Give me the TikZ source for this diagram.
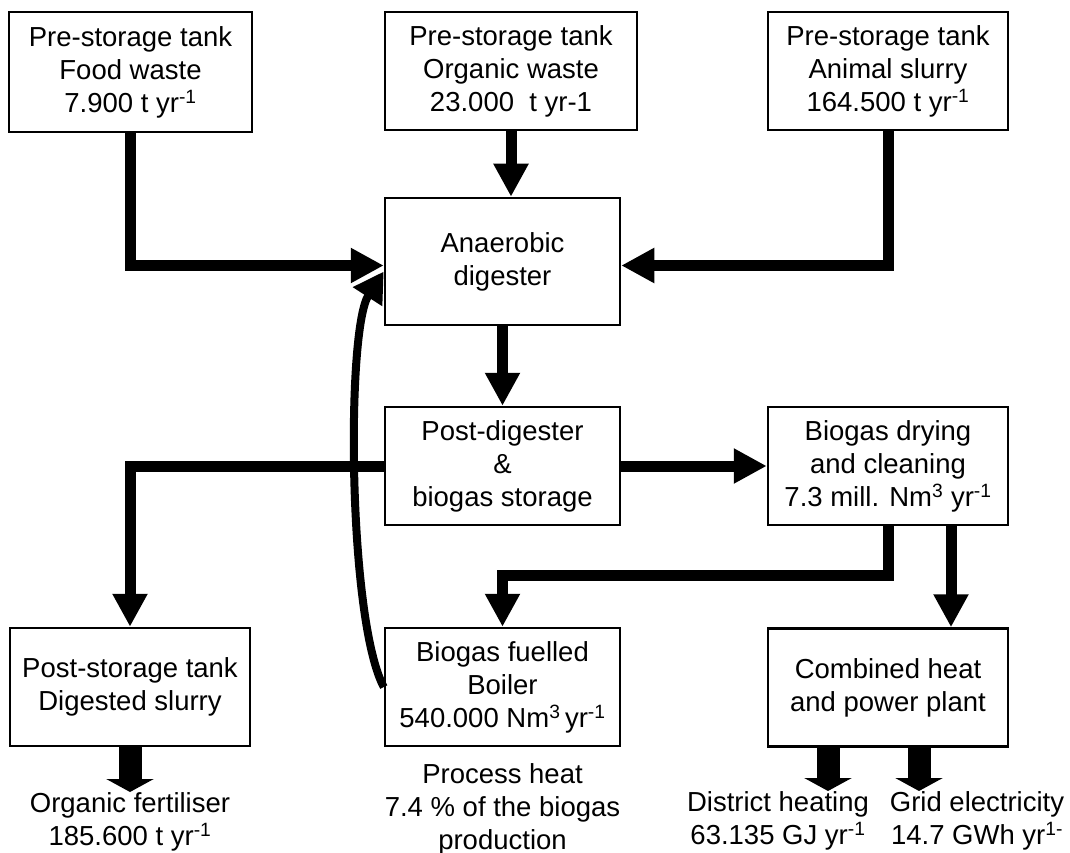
\documentclass[tikz,border=0pt]{standalone}
\usepackage{fontspec}
\setmainfont{Liberation Sans}
\usetikzlibrary{arrows.meta}
\newcommand{\fs}{\fontsize{27.5}{33}\selectfont}
\tikzset{
  box/.style={draw, line width=2.5pt, align=center, inner sep=0pt, font=\fs},
  lbl/.style={align=center, inner sep=0pt, font=\fs, anchor=north},
  flow/.style={line width=11pt, -{Triangle[length=33pt,width=33pt]}},
  fat/.style={line width=23pt, -{Triangle[length=13pt,width=47pt]}},
  ret/.style={line width=8pt, -{Triangle[length=30pt,width=33pt]}},
}
\begin{document}
\begin{tikzpicture}[x=1pt,y=-1pt]
\useasboundingbox[fill=white] (0,0) rectangle (1070,853);
% boxes
\node[box, minimum width=243pt, minimum height=120pt] (food) at (130.5,72) {Pre-storage tank\\Food waste\\7.900 t yr\textsuperscript{-1}};
\node[box, minimum width=252pt, minimum height=118pt] (org) at (511,71) {Pre-storage tank\\Organic waste\\23.000\ \ t yr-1};
\node[box, minimum width=240pt, minimum height=118pt] (anim) at (888,71) {Pre-storage tank\\Animal slurry\\164.500 t yr\textsuperscript{-1}};
\node[box, minimum width=235pt, minimum height=127pt] (anaer) at (502.5,261.5) {Anaerobic\\digester};
\node[box, minimum width=235pt, minimum height=118pt] (post) at (502.5,466) {Post-digester\\\&\\biogas storage};
\node[box, minimum width=240pt, minimum height=118pt] (dry) at (888,466) {Biogas drying\\and cleaning\\7.3 mill. Nm\textsuperscript{3} yr\textsuperscript{-1}};
\node[box, minimum width=240pt, minimum height=118pt] (pstore) at (130,687) {Post-storage tank\\Digested slurry};
\node[box, minimum width=235pt, minimum height=118pt] (boiler) at (502.5,687) {Biogas fuelled\\Boiler\\540.000 Nm\textsuperscript{3}\,yr\textsuperscript{-1}};
\node[box, minimum width=240pt, minimum height=118pt] (chp) at (888,687.5) {Combined heat\\and power plant};
% labels
\node[lbl] (fert) at (130,792) {Organic fertiliser\\185.600 t yr\textsuperscript{-1}};
\node[lbl] (heat) at (502.5,763) {Process heat\\7.4 \% of the biogas\\production};
\node[lbl] (dh) at (778,791) {District heating\\63.135 GJ yr\textsuperscript{-1}};
\node[lbl] (grid) at (977,791) {Grid electricity\\14.7 GWh yr\textsuperscript{1-}};
% connectors
\draw[flow] (food.south) |- ([yshift=-4pt]anaer.west);
\draw[flow] (org.south) -- (org.south |- anaer.north);
\draw[flow] (anim.south) |- ([yshift=-4pt]anaer.east);
\draw[flow] (anaer.south) -- (post.north);
\draw[flow] (post.west) -| (pstore.north);
\draw[flow] (post.east) -- (dry.west);
\coordinate (bend) at (888,575);
\draw[flow] (dry.south) -- (dry.south |- bend) -| (boiler.north);
\draw[flow] ([xshift=63pt]dry.south) -- ([xshift=63pt]chp.north);
\draw[ret] (boiler.west) .. controls (348,620) and (346,330) .. ([yshift=-10pt]anaer.west);
\draw[fat] (pstore.south) -- (pstore.south |- fert.north);
\draw[fat] ([xshift=-60pt]chp.south) -- ([xshift=-60pt]chp.south |- dh.north);
\draw[fat] ([xshift=31pt]chp.south) -- ([xshift=31pt]chp.south |- grid.north);
\end{tikzpicture}
\end{document}
